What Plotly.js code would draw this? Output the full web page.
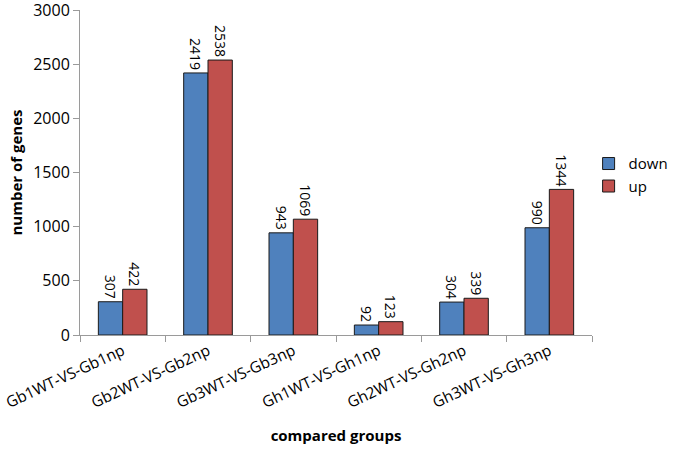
<!DOCTYPE html>
<html>
<head>
<meta charset="utf-8">
<script src="https://cdn.plot.ly/plotly-3.0.1.min.js"></script>
<style>html,body{margin:0;padding:0;background:#fff;}</style>
</head>
<body>
<div id="chart" style="width:675px;height:449px;"></div>
<script>
const categories = ["Gb1WT-VS-Gb1np","Gb2WT-VS-Gb2np","Gb3WT-VS-Gb3np","Gh1WT-VS-Gh1np","Gh2WT-VS-Gh2np","Gh3WT-VS-Gh3np"];
const downValues = [307, 2419, 943, 92, 304, 990];
const upValues = [422, 2538, 1069, 123, 339, 1344];
const yTicks = [0, 500, 1000, 1500, 2000, 2500, 3000];

const font = "Open Sans, Lato, sans-serif";
const mk = (name, vals, color) => ({
  type: "bar", name: name, x: categories, y: vals,
  text: vals.map(String), textposition: "outside", textangle: 90,
  cliponaxis: false,
  textfont: {family: font, size: 14, color: "#000"},
  marker: {color: color, line: {color: "#1a1a1a", width: 1}}
});
const data = [mk("down", downValues, "#4F81BD"), mk("up", upValues, "#C0504D")];
const layout = {
  width: 675, height: 449,
  margin: {l: 80, r: 83, t: 10, b: 114, autoexpand: false},
  paper_bgcolor: "#fff", plot_bgcolor: "#fff",
  barmode: "group", bargap: 0.43, bargroupgap: 0,
  uniformtext: {mode: "show", minsize: 14},
  font: {family: font, size: 14, color: "#000"},
  xaxis: {
    showline: true, linecolor: "#9a9a9a", linewidth: 1,
    ticks: "outside", tickson: "boundaries", ticklen: 6, tickcolor: "#9a9a9a",
    tickangle: -25, tickfont: {family: font, size: 15.5},
    title: {text: "<b>compared groups</b>", font: {family: font, size: 15}, standoff: 18}
  },
  yaxis: {
    range: [0, 3000], tickvals: yTicks, showgrid: false, zeroline: false,
    showline: true, linecolor: "#9a9a9a", linewidth: 1,
    ticks: "outside", ticklen: 6, tickcolor: "#9a9a9a",
    ticklabeloverflow: "allow",
    tickfont: {family: font, size: 16},
    title: {text: "<b>number of genes</b>", font: {family: font, size: 15}, standoff: 6}
  },
  legend: {xref: "container", yref: "container", x: 0.872, y: 0.672, xanchor: "left", yanchor: "top",
    font: {family: font, size: 15}, tracegroupgap: 8, itemwidth: 30},
  showlegend: true
};
Plotly.newPlot("chart", data, layout, {displayModeBar: false, staticPlot: true});
</script>
</body>
</html>
